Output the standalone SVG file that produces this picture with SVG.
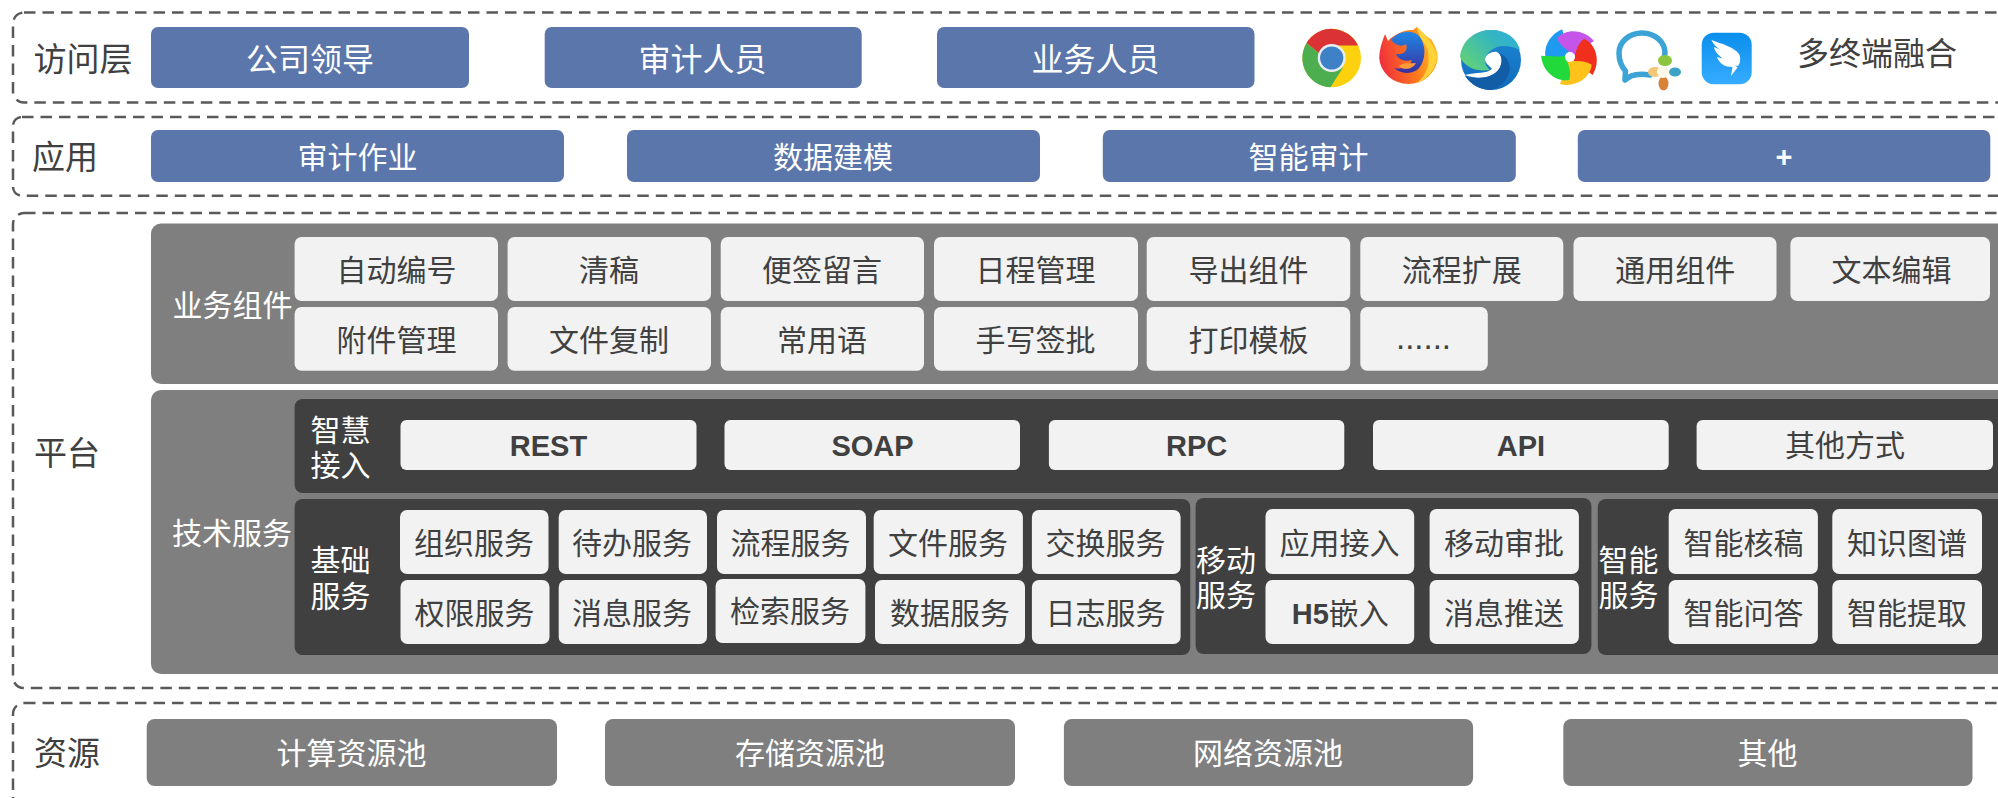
<svg xmlns="http://www.w3.org/2000/svg" xmlns:xlink="http://www.w3.org/1999/xlink" width="1998" height="798" viewBox="0 0 1998 798">
<style>
text{font-family:"Noto Sans CJK SC","Liberation Sans",sans-serif;text-anchor:middle;font-size:30px;fill:#404040}
.w{fill:#fff}.l{font-size:32px}.h{font-size:33px}.b{font-family:"Liberation Sans","Noto Sans CJK SC",sans-serif;font-weight:700;font-size:29px}
.tier{fill:none;stroke:#595959;stroke-width:2.5;stroke-dasharray:11.500 7}
.blue{fill:#5B76AB}.gray{fill:#7F7F7F}.dark{fill:#404040}.cell{fill:#F2F2F2}
</style>
<defs>
<linearGradient id="ff" x1="0" y1="0.5" x2="1" y2="0.3"><stop offset="0" stop-color="#F0303C"/><stop offset="0.55" stop-color="#FF7A1A"/><stop offset="1" stop-color="#FFC22A"/></linearGradient>
<linearGradient id="ffb" x1="0.5" y1="0" x2="0.5" y2="1"><stop offset="0" stop-color="#1E88E5"/><stop offset="1" stop-color="#3A2FA0"/></linearGradient>
<linearGradient id="egr" x1="0" y1="0.7" x2="1" y2="0"><stop offset="0" stop-color="#5FD07A"/><stop offset="0.6" stop-color="#35B5C0"/><stop offset="1" stop-color="#2FB0DC"/></linearGradient>
<linearGradient id="ebl" x1="0" y1="0" x2="0" y2="1"><stop offset="0" stop-color="#1E88D6"/><stop offset="1" stop-color="#0F6CBA"/></linearGradient>
<linearGradient id="dt" x1="0" y1="0" x2="0" y2="1"><stop offset="0" stop-color="#0A8EEC"/><stop offset="1" stop-color="#36ACFF"/></linearGradient>
<path id="petal" d="M0-5C-5-8-11-13-13-19C-4-29 14-28 24-16C18-12 8-6 5-2Z"/>
</defs>

<g id="tier-access">
<rect class="tier" x="13" y="12.500" width="2100" height="90" rx="11"/>
<text class="h" x="83" y="71">访问层</text>
<g id="access-leader"><rect class="blue" x="151" y="27" width="318" height="61" rx="7"/><text class="l w" x="310" y="71">公司领导</text></g>
<g id="access-auditor"><rect class="blue" x="544.700" y="27" width="317" height="61" rx="7"/><text class="l w" x="702.500" y="71">审计人员</text></g>
<g id="access-staff"><rect class="blue" x="937" y="27" width="317.500" height="61" rx="7"/><text class="l w" x="1095.500" y="71">业务人员</text></g>
<g id="icon-chrome">
<circle cx="1331.700" cy="58" r="29.300" fill="#FDD10D"/>
<path d="M1306.500 43A29.300 29.300 0 0 1 1358 45.500L1331.700 45.500A12.500 12.500 0 0 0 1320 54Z" fill="#DB3236"/>
<path d="M1306.500 43A29.300 29.300 0 0 0 1330.500 87.300L1343 67.500L1326 69.500L1320 54Z" fill="#4CAE4F"/>
<circle cx="1331.700" cy="58" r="14" fill="#E8EEF2"/><circle cx="1331.700" cy="58" r="11.600" fill="#3F81C6"/>
</g>
<g id="icon-firefox">
<path d="M1385 34L1388 41C1393 35 1405 29 1413 30L1417 27C1423 33 1428 38 1431 39C1435 45 1438 52 1437.700 58A29.300 27.500 0 0 1 1379.200 58C1379.200 50 1382 42 1385 34Z" fill="url(#ff)"/>
<path d="M1391 40C1398 31 1412 29 1419 36C1427 45 1426 63 1417 70C1409 75 1399 73 1394 68C1404 70 1410 66 1412 60C1406 62 1398 60 1396 54C1405 55 1408 50 1406 44C1402 47 1396 46 1391 40Z" fill="url(#ffb)"/>
<path d="M1417 27C1424 33 1434 44 1437 56C1436 70 1426 80 1417 83C1428 74 1432 60 1426 46C1422 40 1418 34 1417 27Z" fill="#FFD23A"/>
<path d="M1399 66C1404 62 1411 64 1416 63C1413 69 1404 71 1399 66Z" fill="#FF9A3A"/>
</g>
<g id="icon-edge">
<circle cx="1491" cy="60" r="30" fill="url(#ebl)"/>
<path d="M1460 57C1462 38 1478 30 1491 30C1506 30 1517 38 1520 50C1512 46 1503 45 1497 47C1490 50 1485 55 1485 60C1485 65 1488 68 1490 70C1478 72 1465 68 1460 57Z" fill="url(#egr)"/>
<path d="M1465 75C1477 72 1486 74 1492 69C1490 66 1485 64 1485 59C1486 54 1492 51 1497 52C1502 54 1503 63 1499 69C1493 78 1478 80 1465 75Z" fill="#fff"/>
<path d="M1465 76C1478 80 1493 78 1499 69C1503 63 1503 55 1497 52C1507 55 1512 65 1509 73C1506 82 1499 88 1491 90C1481 90 1471 85 1465 76Z" fill="#135CA6"/>
</g>
<g id="icon-swirl" transform="translate(1570 57)">
<use xlink:href="#petal" href="#petal" fill="#1E9BF0" transform="rotate(288)"/>
<use xlink:href="#petal" href="#petal" fill="#C455E8"/>
<use xlink:href="#petal" href="#petal" fill="#F0301C" transform="rotate(72)"/>
<use xlink:href="#petal" href="#petal" fill="#FFC21A" transform="rotate(144)"/>
<use xlink:href="#petal" href="#petal" fill="#22D93C" transform="rotate(216)"/>
<circle r="5" fill="#fff"/>
</g>
<g id="icon-wecom">
<path d="M1650 75C1644 74 1636 74 1631 76L1625 80L1625.500 71C1621 66 1619 60 1619 53C1619 42 1629 33 1642 33C1655 33 1665 42 1665 53L1664 58" fill="none" stroke="#3BA3D6" stroke-width="5.500" stroke-linecap="round" stroke-linejoin="round"/>
<ellipse cx="1665" cy="60.500" rx="7" ry="5.500" fill="#8CC63F"/>
<ellipse cx="1675" cy="72" rx="6" ry="4.500" fill="#3BA3C6"/>
<ellipse cx="1663.500" cy="83.500" rx="5" ry="7" fill="#D8813A"/>
<ellipse cx="1655" cy="72" rx="7" ry="5" fill="#F3C77A"/>
<circle cx="1663" cy="72" r="6" fill="#FBF8E8"/>
</g>
<g id="icon-dingtalk">
<rect x="1701.700" y="32.700" width="50" height="51.600" rx="12" fill="url(#dt)"/>
<path d="M1711.500 40C1722 44 1734 47 1739 54C1741 58 1740.500 63 1738 66L1735 65.500L1737.500 67.500L1731 76L1732.500 67L1727 66.500C1722 65 1718 61 1717 57L1723 58.500C1718 55 1714.500 51 1714 47L1720 49.500C1716 47 1713 44 1711.500 40Z" fill="#fff"/>
</g>
<text class="l" x="1877" y="65">多终端融合</text>
</g>

<g id="tier-application">
<rect class="tier" x="13" y="117" width="2100" height="78.700" rx="9"/>
<text class="h" x="65" y="169">应用</text>
<g id="app-audit"><rect class="blue" x="151" y="130" width="413" height="52" rx="7"/><text class="w" x="357.500" y="168">审计作业</text></g>
<g id="app-model"><rect class="blue" x="627" y="130" width="413" height="52" rx="7"/><text class="w" x="833" y="168">数据建模</text></g>
<g id="app-smart"><rect class="blue" x="1102.800" y="130" width="413" height="52" rx="7"/><text class="w" x="1308.500" y="168">智能审计</text></g>
<g id="app-plus"><rect class="blue" x="1577.800" y="130" width="412.500" height="52" rx="7"/><text class="b w" x="1784" y="167">+</text></g>
</g>

<g id="tier-platform">
<rect class="tier" x="13" y="213" width="2100" height="475" rx="11"/>
<text class="h" x="67" y="465">平台</text>
<g id="business-components">
<rect class="gray" x="151" y="223.500" width="1900" height="160.500" rx="10"/>
<text class="w" x="232.500" y="316">业务组件</text>
<g id="c1"><rect class="cell" x="294.600" y="237" width="203.400" height="64" rx="7"/><text x="396.500" y="281">自动编号</text></g>
<g id="c2"><rect class="cell" x="507.600" y="237" width="203.400" height="64" rx="7"/><text x="609" y="281">清稿</text></g>
<g id="c3"><rect class="cell" x="720.700" y="237" width="203.300" height="64" rx="7"/><text x="822" y="281">便签留言</text></g>
<g id="c4"><rect class="cell" x="934" y="237" width="204" height="64" rx="7"/><text x="1035.500" y="281">日程管理</text></g>
<g id="c5"><rect class="cell" x="1146.700" y="237" width="203.500" height="64" rx="7"/><text x="1248.500" y="281">导出组件</text></g>
<g id="c6"><rect class="cell" x="1360.300" y="237" width="203" height="64" rx="7"/><text x="1461.800" y="281">流程扩展</text></g>
<g id="c7"><rect class="cell" x="1573.500" y="237" width="203" height="64" rx="7"/><text x="1675.200" y="281">通用组件</text></g>
<g id="c8"><rect class="cell" x="1790.400" y="237" width="199.600" height="64" rx="7"/><text x="1891.400" y="281">文本编辑</text></g>
<g id="c9"><rect class="cell" x="294.600" y="307" width="203.400" height="63.700" rx="7"/><text x="396.500" y="351">附件管理</text></g>
<g id="c10"><rect class="cell" x="507.600" y="307" width="203.400" height="63.700" rx="7"/><text x="609" y="351">文件复制</text></g>
<g id="c11"><rect class="cell" x="720.700" y="307" width="203.300" height="63.700" rx="7"/><text x="822" y="351">常用语</text></g>
<g id="c12"><rect class="cell" x="934" y="307" width="204" height="63.700" rx="7"/><text x="1035.500" y="351">手写签批</text></g>
<g id="c13"><rect class="cell" x="1146.700" y="307" width="203.500" height="63.700" rx="7"/><text x="1248.500" y="351">打印模板</text></g>
<g id="c14"><rect class="cell" x="1360.300" y="307" width="127.500" height="63.700" rx="7"/><text x="1423.500" y="349" style="font-family:'Liberation Sans',sans-serif;font-size:33px">......</text></g>
</g>
<g id="tech-services">
<rect class="gray" x="151" y="390" width="1900" height="284" rx="10"/>
<text class="w" x="232" y="544">技术服务</text>
</g>
<g id="smart-access">
<rect class="dark" x="294.600" y="399" width="1750" height="94" rx="8"/>
<text class="w" x="340.500" y="441">智慧<tspan x="340.500" dy="35">接入</tspan></text>
<g id="a1"><rect class="cell" x="400.500" y="420" width="296" height="50" rx="6"/><text class="b" x="548.500" y="456">REST</text></g>
<g id="a2"><rect class="cell" x="724.500" y="420" width="295.500" height="50" rx="6"/><text class="b" x="872.500" y="456">SOAP</text></g>
<g id="a3"><rect class="cell" x="1048.900" y="420" width="295.400" height="50" rx="6"/><text class="b" x="1196.700" y="456">RPC</text></g>
<g id="a4"><rect class="cell" x="1373" y="420" width="295.700" height="50" rx="6"/><text class="b" x="1521" y="456">API</text></g>
<g id="a5"><rect class="cell" x="1696.600" y="420" width="296.400" height="50" rx="6"/><text x="1845" y="456">其他方式</text></g>
</g>
<g id="base-services">
<rect class="dark" x="294.600" y="499" width="895.700" height="156" rx="8"/>
<text class="w" x="340.500" y="571">基础<tspan x="340.500" dy="36">服务</tspan></text>
<g id="b1"><rect class="cell" x="400" y="510" width="148.500" height="64" rx="7"/><text x="474" y="554">组织服务</text></g>
<g id="b2"><rect class="cell" x="558.700" y="510" width="148.300" height="64" rx="7"/><text x="632" y="554">待办服务</text></g>
<g id="b3"><rect class="cell" x="717" y="510" width="149" height="64" rx="7"/><text x="790.500" y="554">流程服务</text></g>
<g id="b4"><rect class="cell" x="873.700" y="510" width="149.200" height="64" rx="7"/><text x="948" y="554">文件服务</text></g>
<g id="b5"><rect class="cell" x="1031.900" y="510" width="148.700" height="64" rx="7"/><text x="1105.500" y="554">交换服务</text></g>
<g id="b6"><rect class="cell" x="400.500" y="580" width="149" height="64" rx="7"/><text x="474.500" y="624">权限服务</text></g>
<g id="b7"><rect class="cell" x="558.700" y="580" width="148.300" height="64" rx="7"/><text x="632" y="624">消息服务</text></g>
<g id="b8"><rect class="cell" x="715.600" y="579" width="149.800" height="64" rx="7"/><text x="790" y="622">检索服务</text></g>
<g id="b9"><rect class="cell" x="875" y="580" width="150" height="64" rx="7"/><text x="950" y="624">数据服务</text></g>
<g id="b10"><rect class="cell" x="1031.900" y="580" width="148.700" height="64" rx="7"/><text x="1105.500" y="624">日志服务</text></g>
</g>
<g id="mobile-services">
<rect class="dark" x="1195.600" y="498" width="395.800" height="156" rx="8"/>
<text class="w" x="1226" y="571">移动<tspan x="1226" dy="35">服务</tspan></text>
<g id="m1"><rect class="cell" x="1265.500" y="509" width="148.700" height="65" rx="7"/><text x="1339.500" y="554">应用接入</text></g>
<g id="m2"><rect class="cell" x="1429.600" y="509" width="149.300" height="65" rx="7"/><text x="1504" y="554">移动审批</text></g>
<g id="m3"><rect class="cell" x="1265.500" y="580" width="148.700" height="64" rx="7"/><text x="1340.300" y="624"><tspan class="b">H5</tspan>嵌入</text></g>
<g id="m4"><rect class="cell" x="1429.600" y="580" width="149.300" height="64" rx="7"/><text x="1504" y="624">消息推送</text></g>
</g>
<g id="smart-services">
<rect class="dark" x="1597.800" y="499" width="450" height="156" rx="8"/>
<text class="w" x="1628.500" y="571">智能<tspan x="1628.500" dy="35">服务</tspan></text>
<g id="s1"><rect class="cell" x="1668.700" y="509" width="149.200" height="65" rx="7"/><text x="1743.500" y="554">智能核稿</text></g>
<g id="s2"><rect class="cell" x="1832.300" y="509" width="149.700" height="65" rx="7"/><text x="1907" y="554">知识图谱</text></g>
<g id="s3"><rect class="cell" x="1668.700" y="580" width="149.200" height="64" rx="7"/><text x="1743.500" y="624">智能问答</text></g>
<g id="s4"><rect class="cell" x="1832.300" y="580" width="149.700" height="64" rx="7"/><text x="1907" y="624">智能提取</text></g>
</g>
</g>

<g id="tier-resource">
<rect class="tier" x="13" y="703" width="2100" height="130" rx="11"/>
<text class="h" x="67" y="765">资源</text>
<g id="r1"><rect class="gray" x="146.700" y="719" width="410.300" height="67" rx="8"/><text class="w" x="351.500" y="764">计算资源池</text></g>
<g id="r2"><rect class="gray" x="605" y="719" width="410" height="67" rx="8"/><text class="w" x="810" y="764">存储资源池</text></g>
<g id="r3"><rect class="gray" x="1063.900" y="719" width="409.200" height="67" rx="8"/><text class="w" x="1268" y="764">网络资源池</text></g>
<g id="r4"><rect class="gray" x="1563.300" y="719" width="409.200" height="67" rx="8"/><text class="w" x="1767.500" y="764">其他</text></g>
</g>
</svg>
